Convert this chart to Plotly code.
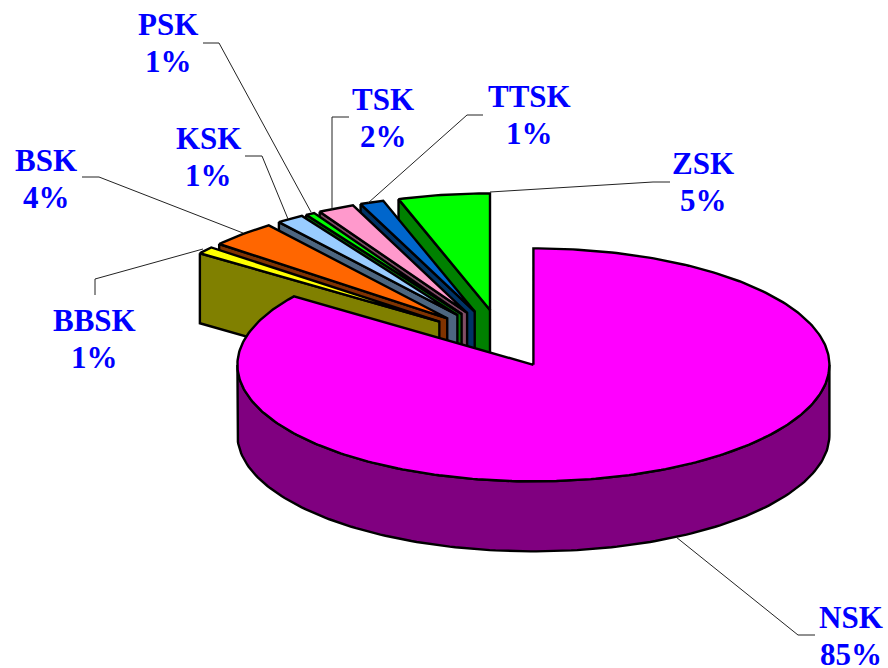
import numpy as np
import plotly.graph_objects as go

# ---- data (clockwise from 12 o'clock) ----
categories = ["NSK", "BBSK", "BSK", "KSK", "PSK", "TSK", "TTSK", "ZSK"]
values = [85, 1, 3.7, 1.5, 0.5, 2, 1.3, 5]
pct_labels = ["85%", "1%", "4%", "1%", "1%", "2%", "1%", "5%"]
top_colors = ["#FF00FF", "#FFFF00", "#FF6600", "#99CCFF", "#00FF00", "#FF99CC", "#0066CC", "#00FF00"]
wall_colors = ["#800080", "#808000", "#803300", "#4D6680", "#008000", "#804D66", "#003366", "#008000"]

# ---- label placement and leader lines (pixels) ----
label_pos = {"NSK": (851, 636), "BBSK": (94, 339), "BSK": (46, 179), "KSK": (208, 157),
             "PSK": (168, 43), "TSK": (383, 118), "TTSK": (529, 115), "ZSK": (703, 182)}
leaders = {"NSK": [(815, 635), (798, 635), (676, 537)],
           "BBSK": [(95, 295), (95, 279), (203, 249)],
           "BSK": [(82, 177), (99, 177), (243, 233)],
           "KSK": [(245, 156), (262, 156), (288, 219)],
           "PSK": [(203, 43), (219, 43), (311, 212)],
           "TSK": [(349, 117), (332, 117), (332, 210)],
           "TTSK": [(483, 115), (467, 115), (368, 203)],
           "ZSK": [(670, 182), (653, 182), (490, 192)]}

# ---- projection of the tilted pie ----
CX, CY = 502.5, 341.0
RX, RY = 296.0, 116.5
DEPTH = 70.0
EXPLODE_BIG = 0.23
EXPLODE_SMALL = 0.27

fig = go.Figure()


def poly(xs, ys, fill):
    fig.add_trace(go.Scatter(x=xs, y=ys, mode="lines", fill="toself", fillcolor=fill,
                             line=dict(color="black", width=2.4), hoverinfo="skip", showlegend=False))


total = sum(values)
angles = np.cumsum([0] + values) / total * 2 * np.pi

# draw from the back slice (last) to the front slice (first)
for i in range(len(values) - 1, -1, -1):
    a0, a1 = angles[i], angles[i + 1]
    mid = (a0 + a1) / 2
    e = EXPLODE_BIG if i == 0 else EXPLODE_SMALL
    ax = CX + e * RX * np.sin(mid)
    ay = CY - e * RY * np.cos(mid)
    t = np.linspace(a0, a1, max(8, int((a1 - a0) * 60)))
    ex = ax + RX * np.sin(t)
    ey = ay - RY * np.cos(t)
    if i == 0:
        # outer rim of the big slice, front half only
        r = np.linspace(np.pi / 2, 3 * np.pi / 2, 160)
        rx = ax + RX * np.sin(r)
        ry = ay - RY * np.cos(r)
        poly(list(rx) + list(rx[::-1]) + [rx[0]], list(ry) + list(ry[::-1] + DEPTH) + [ry[0]], wall_colors[i])
    else:
        # radial wall along the starting edge
        poly([ex[0], ax, ax, ex[0], ex[0]],
             [ey[0], ay, ay + DEPTH, ey[0] + DEPTH, ey[0]], wall_colors[i])
    poly([ax] + list(ex) + [ax], [ay] + list(ey) + [ay], top_colors[i])

for name in categories:
    pts = leaders[name]
    fig.add_trace(go.Scatter(x=[p[0] for p in pts], y=[p[1] for p in pts], mode="lines",
                             line=dict(color="#222222", width=1), hoverinfo="skip", showlegend=False))

for name, pct in zip(categories, pct_labels):
    x, y = label_pos[name]
    for txt, yy in ((name, y - 18.5), (pct, y + 18.5)):
        fig.add_annotation(x=x, y=yy, text=txt, showarrow=False, xanchor="center", yanchor="middle",
                           font=dict(family="Liberation Serif", size=31, color="#0000FF", weight="bold"))

fig.update_layout(width=888, height=668, margin=dict(l=0, r=0, t=0, b=0),
                  paper_bgcolor="white", plot_bgcolor="white",
                  xaxis=dict(range=[0, 888], visible=False),
                  yaxis=dict(range=[668, 0], visible=False))

fig.write_html("out.html", config={"displayModeBar": False}, post_script="document.body.style.margin='0';")
